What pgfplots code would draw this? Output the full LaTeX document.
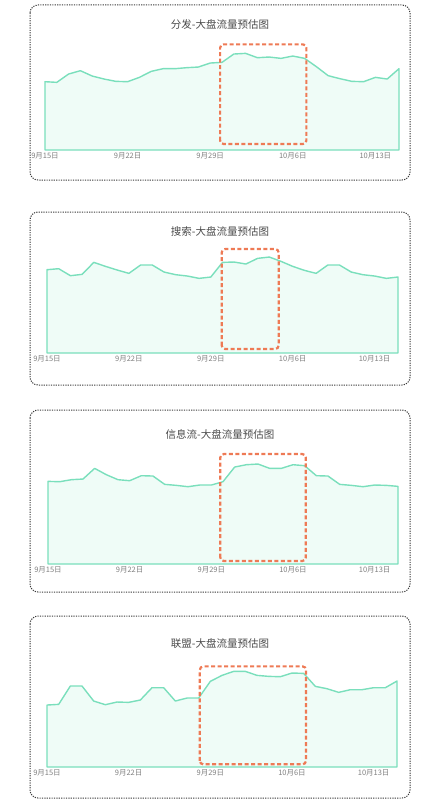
\documentclass[border=0pt]{standalone}
\usepackage{pgfplots}
\usepackage{pgfplotstable}
\pgfplotsset{compat=1.18}
\usepackage{fontspec}
\setmainfont{Noto Sans CJK SC}
\newfontfamily\cjk{Noto Sans CJK SC}

\definecolor{lineteal}{HTML}{7ADFBC}
\definecolor{fillteal}{HTML}{EFFCF7}
\definecolor{boxorange}{HTML}{EE7A55}
\definecolor{framegray}{HTML}{3A3A3A}
\definecolor{titlegray}{HTML}{4A4A4A}
\definecolor{tickgray}{HTML}{808080}

% day index (0 = 9/15) and traffic value
\pgfplotstableread{
d v
0 205
1 203
2 228
3 238
4 222
5 213
6 206
7 205
8 218
9 236
10 244
11 244
12 247
13 249
14 261
15 263
16 288
17 290
18 277
19 279
20 275
21 282
22 275
23 250
24 223
25 214
26 206
27 205
28 218
29 213
30 244
}\fenfa

\pgfplotstableread{
d v
0 250
1 253
2 232
3 236
4 272
5 260
6 249
7 239
8 264
9 264
10 243
11 235
12 231
13 224
14 228
15 272
16 273
17 267
18 284
19 288
20 275
21 260
22 248
23 239
24 264
25 264
26 243
27 235
28 231
29 224
30 228
}\sousuo

\pgfplotstableread{
d v
0 248
1 247
2 253
3 255
4 287
5 268
6 253
7 250
8 265
9 264
10 239
11 236
12 232
13 237
14 237
15 247
16 291
17 298
18 300
19 287
20 287
21 298
22 295
23 265
24 264
25 239
26 236
27 232
28 237
29 236
30 233
}\xinxiliu

\pgfplotstableread{
d v
0 186
1 188
2 243
3 243
4 198
5 187
6 195
7 194
8 201
9 238
10 238
11 198
12 207
13 207
14 257
15 275
16 287
17 287
18 275
19 272
20 271
21 282
22 281
23 242
24 235
25 224
26 232
27 232
28 238
29 238
30 258
}\lianmeng

\pgfplotsset{
  panel/.style={
    scale only axis,
    anchor=south west,
    height=113.3pt,
    xmin=0, xmax=30,
    ymin=0, ymax=340,
    axis line style={draw=none},
    ytick=\empty,
    xtick={0,7,14,21,28},
    xticklabels={9月15日,9月22日,9月29日,10月6日,10月13日},
    major tick length=0pt,
    xticklabel style={font=\cjk\fontsize{7.5}{8}\selectfont, text=tickgray, yshift=1pt},
    clip=false,
  },
}
\tikzset{
  area/.style={draw=lineteal, line width=1.4pt, fill=fillteal, line join=round},
  hl/.style={draw=boxorange, line width=2.2pt, dash pattern=on 4pt off 2.5pt, rounded corners=3.5pt},
  frame/.style={draw=framegray, line width=1pt, dash pattern=on 1.2pt off 1.2pt, rounded corners=8pt},
  ttl/.style={font=\cjk\fontsize{10.5}{12}\selectfont, text=titlegray},
}

\begin{document}
\begin{tikzpicture}
\path[use as bounding box] (0pt,0pt) rectangle (438pt,-800pt);

% frames and titles
\draw[frame] (30pt,-5pt) rectangle (410pt,-180pt);
\draw[frame] (30pt,-212pt) rectangle (410pt,-385pt);
\draw[frame] (30pt,-410pt) rectangle (410pt,-592pt);
\draw[frame] (30pt,-616pt) rectangle (410pt,-798pt);
\node[ttl] at (220pt,-24pt) {分发-大盘流量预估图};
\node[ttl] at (220pt,-231pt) {搜索-大盘流量预估图};
\node[ttl] at (220pt,-434pt) {信息流-大盘流量预估图};
\node[ttl] at (220pt,-643pt) {联盟-大盘流量预估图};

\begin{axis}[panel, width=354pt, at={(45pt,-150pt)}]
  \addplot[area] table[x=d, y=v] {\fenfa} \closedcycle;
  \draw[hl] (axis cs:14.84,18) rectangle (axis cs:22.15,317);
\end{axis}

\begin{axis}[panel, width=351pt, at={(47pt,-353pt)}]
  \addplot[area] table[x=d, y=v] {\sousuo} \closedcycle;
  \draw[hl] (axis cs:14.93,12) rectangle (axis cs:19.8,312);
\end{axis}

\begin{axis}[panel, width=350pt, at={(48pt,-564pt)}]
  \addplot[area] table[x=d, y=v] {\xinxiliu} \closedcycle;
  \draw[hl] (axis cs:14.77,9) rectangle (axis cs:22.1,330);
\end{axis}

\begin{axis}[panel, width=350pt, at={(47pt,-767pt)}]
  \addplot[area] table[x=d, y=v] {\lianmeng} \closedcycle;
  \draw[hl] (axis cs:13.1,8) rectangle (axis cs:22.2,302);
\end{axis}
\end{tikzpicture}
\end{document}
